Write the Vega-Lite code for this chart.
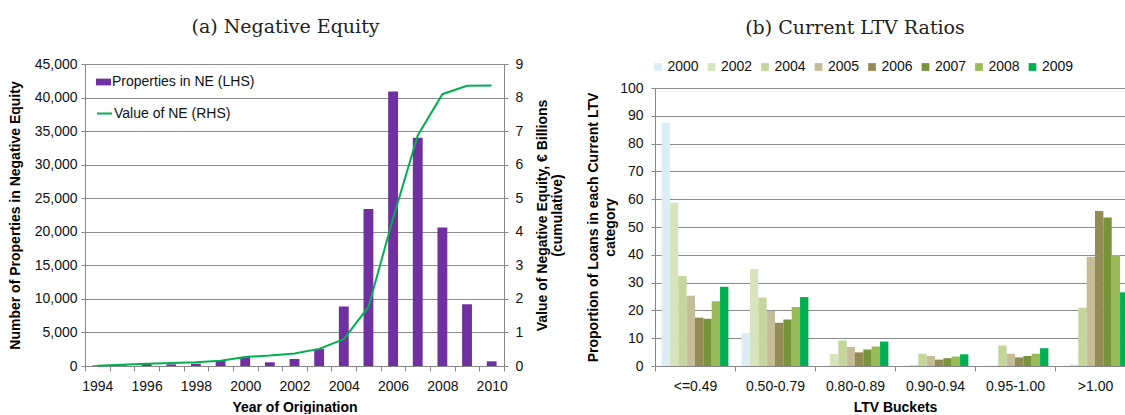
{
  "$schema": "https://vega.github.io/schema/vega-lite/v6.json",
  "background": "white",
  "padding": {"left": 8, "top": 18, "right": 0, "bottom": 0},
  "spacing": 21,
  "resolve": {"legend": {"color": "independent", "fill": "independent", "stroke": "independent"}},
  "config": {
    "font": "Liberation Sans",
    "view": {"stroke": null},
    "axis": {"labelFont": "Liberation Sans", "labelFontSize": 14, "labelColor": "#111111", "titleFont": "Liberation Sans", "titleFontSize": 14, "titleFontWeight": "bold", "titleColor": "#000000", "domainColor": "#868686", "tickColor": "#868686", "gridColor": "#8c8c8c", "gridOpacity": 1, "tickSize": 4},
    "legend": {"labelFont": "Liberation Sans", "labelFontSize": 14, "labelColor": "#111111"},
    "title": {"font": "DejaVu Serif", "fontSize": 19, "fontWeight": "normal", "color": "#222222", "frame": "group", "anchor": "middle"}
  },
  "hconcat": [
    {
      "title": {"text": "(a) Negative Equity", "offset": 20, "dx": -9},
      "width": 419,
      "height": 302,
      "data": {"values": [
        {"year": 1994, "count": 100, "value": 0.01},
        {"year": 1995, "count": 100, "value": 0.04},
        {"year": 1996, "count": 350, "value": 0.07},
        {"year": 1997, "count": 250, "value": 0.09},
        {"year": 1998, "count": 350, "value": 0.11},
        {"year": 1999, "count": 750, "value": 0.16},
        {"year": 2000, "count": 1350, "value": 0.27},
        {"year": 2001, "count": 550, "value": 0.31},
        {"year": 2002, "count": 1050, "value": 0.37},
        {"year": 2003, "count": 2550, "value": 0.51},
        {"year": 2004, "count": 8850, "value": 0.8},
        {"year": 2005, "count": 23400, "value": 1.76},
        {"year": 2006, "count": 40900, "value": 4.4},
        {"year": 2007, "count": 34000, "value": 6.87},
        {"year": 2008, "count": 20650, "value": 8.1},
        {"year": 2009, "count": 9200, "value": 8.35},
        {"year": 2010, "count": 700, "value": 8.36}
      ]},
      "encoding": {
        "x": {"field": "year", "type": "ordinal", "scale": {"paddingInner": 0, "paddingOuter": 0},
          "axis": {"title": "Year of Origination", "tickBand": "extent", "labelAngle": 0, "labelExpr": "datum.value % 2 == 0 ? datum.label : ''", "tickSize": 5, "labelPadding": 8, "titlePadding": 7, "grid": false}}
      },
      "layer": [
        {
          "mark": {"type": "bar", "width": {"band": 0.4}},
          "encoding": {
            "y": {"field": "count", "type": "quantitative", "scale": {"domain": [0, 45000]},
              "axis": {"title": "Number of Properties in Negative Equity", "values": [0, 5000, 10000, 15000, 20000, 25000, 30000, 35000, 40000, 45000], "format": ",d", "grid": true, "labelPadding": 4, "titlePadding": 12}},
            "fill": {"datum": "Properties in NE (LHS)", "type": "nominal", "scale": {"range": ["#7030A0"]},
              "legend": {"orient": "none", "legendX": 11, "legendY": 10.5, "title": null, "padding": 0, "symbolType": "M-1,-0.45H1V0.45H-1Z", "symbolSize": 225, "symbolStrokeWidth": 0, "symbolFillColor": "#7030A0", "labelOffset": 1}}
          }
        },
        {
          "mark": {"type": "line", "strokeWidth": 2},
          "encoding": {
            "y": {"field": "value", "type": "quantitative", "scale": {"domain": [0, 9]},
              "axis": {"orient": "right", "title": ["Value of Negative Equity, € Billions", "(cumulative)"], "titleAngle": 270, "titleLineHeight": 15, "values": [0, 1, 2, 3, 4, 5, 6, 7, 8, 9], "grid": false, "labelPadding": 7, "titlePadding": 12}},
            "stroke": {"datum": "Value of NE (RHS)", "type": "nominal", "scale": {"range": ["#00B050"]},
              "legend": {"orient": "none", "legendX": 11, "legendY": 41, "title": null, "padding": 0, "symbolType": "stroke", "symbolSize": 225, "symbolStrokeWidth": 2, "labelOffset": 1}}
          }
        }
      ],
      "resolve": {"scale": {"y": "independent"}}
    },
    {
      "title": {"text": "(b) Current LTV Ratios", "offset": 22, "dx": -40},
      "width": 480,
      "height": 302,
      "data": {"values": [
        {"bucket": "<=0.49", "year": "2000", "pct": 87.5},
        {"bucket": "<=0.49", "year": "2002", "pct": 58.7},
        {"bucket": "<=0.49", "year": "2004", "pct": 32.4},
        {"bucket": "<=0.49", "year": "2005", "pct": 25.3},
        {"bucket": "<=0.49", "year": "2006", "pct": 17.4},
        {"bucket": "<=0.49", "year": "2007", "pct": 17.0},
        {"bucket": "<=0.49", "year": "2008", "pct": 23.3},
        {"bucket": "<=0.49", "year": "2009", "pct": 28.5},
        {"bucket": "0.50-0.79", "year": "2000", "pct": 11.9},
        {"bucket": "0.50-0.79", "year": "2002", "pct": 34.9},
        {"bucket": "0.50-0.79", "year": "2004", "pct": 24.6},
        {"bucket": "0.50-0.79", "year": "2005", "pct": 19.8},
        {"bucket": "0.50-0.79", "year": "2006", "pct": 15.6},
        {"bucket": "0.50-0.79", "year": "2007", "pct": 16.7},
        {"bucket": "0.50-0.79", "year": "2008", "pct": 21.2},
        {"bucket": "0.50-0.79", "year": "2009", "pct": 24.8},
        {"bucket": "0.80-0.89", "year": "2000", "pct": 0},
        {"bucket": "0.80-0.89", "year": "2002", "pct": 4.3},
        {"bucket": "0.80-0.89", "year": "2004", "pct": 9.2},
        {"bucket": "0.80-0.89", "year": "2005", "pct": 6.8},
        {"bucket": "0.80-0.89", "year": "2006", "pct": 4.9},
        {"bucket": "0.80-0.89", "year": "2007", "pct": 5.9},
        {"bucket": "0.80-0.89", "year": "2008", "pct": 7.0},
        {"bucket": "0.80-0.89", "year": "2009", "pct": 8.8},
        {"bucket": "0.90-0.94", "year": "2000", "pct": 0},
        {"bucket": "0.90-0.94", "year": "2002", "pct": 0.4},
        {"bucket": "0.90-0.94", "year": "2004", "pct": 4.4},
        {"bucket": "0.90-0.94", "year": "2005", "pct": 3.6},
        {"bucket": "0.90-0.94", "year": "2006", "pct": 2.3},
        {"bucket": "0.90-0.94", "year": "2007", "pct": 2.8},
        {"bucket": "0.90-0.94", "year": "2008", "pct": 3.4},
        {"bucket": "0.90-0.94", "year": "2009", "pct": 4.2},
        {"bucket": "0.95-1.00", "year": "2000", "pct": 0},
        {"bucket": "0.95-1.00", "year": "2002", "pct": 0.1},
        {"bucket": "0.95-1.00", "year": "2004", "pct": 7.4},
        {"bucket": "0.95-1.00", "year": "2005", "pct": 4.4},
        {"bucket": "0.95-1.00", "year": "2006", "pct": 3.1},
        {"bucket": "0.95-1.00", "year": "2007", "pct": 3.6},
        {"bucket": "0.95-1.00", "year": "2008", "pct": 4.4},
        {"bucket": "0.95-1.00", "year": "2009", "pct": 6.4},
        {"bucket": ">1.00", "year": "2000", "pct": 0},
        {"bucket": ">1.00", "year": "2002", "pct": 0.5},
        {"bucket": ">1.00", "year": "2004", "pct": 21.0},
        {"bucket": ">1.00", "year": "2005", "pct": 39.3},
        {"bucket": ">1.00", "year": "2006", "pct": 55.8},
        {"bucket": ">1.00", "year": "2007", "pct": 53.4},
        {"bucket": ">1.00", "year": "2008", "pct": 39.9},
        {"bucket": ">1.00", "year": "2009", "pct": 26.5}
      ]},
      "mark": "bar",
      "encoding": {
        "x": {"field": "bucket", "type": "nominal", "sort": ["<=0.49", "0.50-0.79", "0.80-0.89", "0.90-0.94", "0.95-1.00", ">1.00"], "scale": {"paddingInner": 0, "paddingOuter": 0},
          "axis": {"title": "LTV Buckets", "tickBand": "extent", "labelAngle": 0, "tickSize": 5, "labelPadding": 8, "titlePadding": 7}},
        "xOffset": {"field": "year", "type": "nominal", "scale": {"paddingInner": 0, "paddingOuter": 0.79}},
        "y": {"field": "pct", "type": "quantitative", "scale": {"domain": [0, 100], "range": [302, 24]},
          "axis": {"title": ["Proportion of Loans in each Current LTV", "category"], "titleLineHeight": 17, "values": [0, 10, 20, 30, 40, 50, 60, 70, 80, 90, 100], "grid": true, "labelPadding": 8, "titlePadding": 2}},
        "color": {"field": "year", "type": "nominal",
          "scale": {"domain": ["2000", "2002", "2004", "2005", "2006", "2007", "2008", "2009"], "range": ["#DBEEF4", "#D7E4BD", "#C3D69B", "#C4BD97", "#948A54", "#77933C", "#9BBB59", "#00B050"]},
          "legend": {"orient": "none", "direction": "horizontal", "columns": 8, "legendX": -4, "legendY": -4, "title": null, "padding": 0, "symbolType": "square", "symbolSize": 60, "symbolStrokeWidth": 0, "symbolOpacity": 1, "labelOffset": 2.5, "columnPadding": 5.5}}
      }
    }
  ]
}
